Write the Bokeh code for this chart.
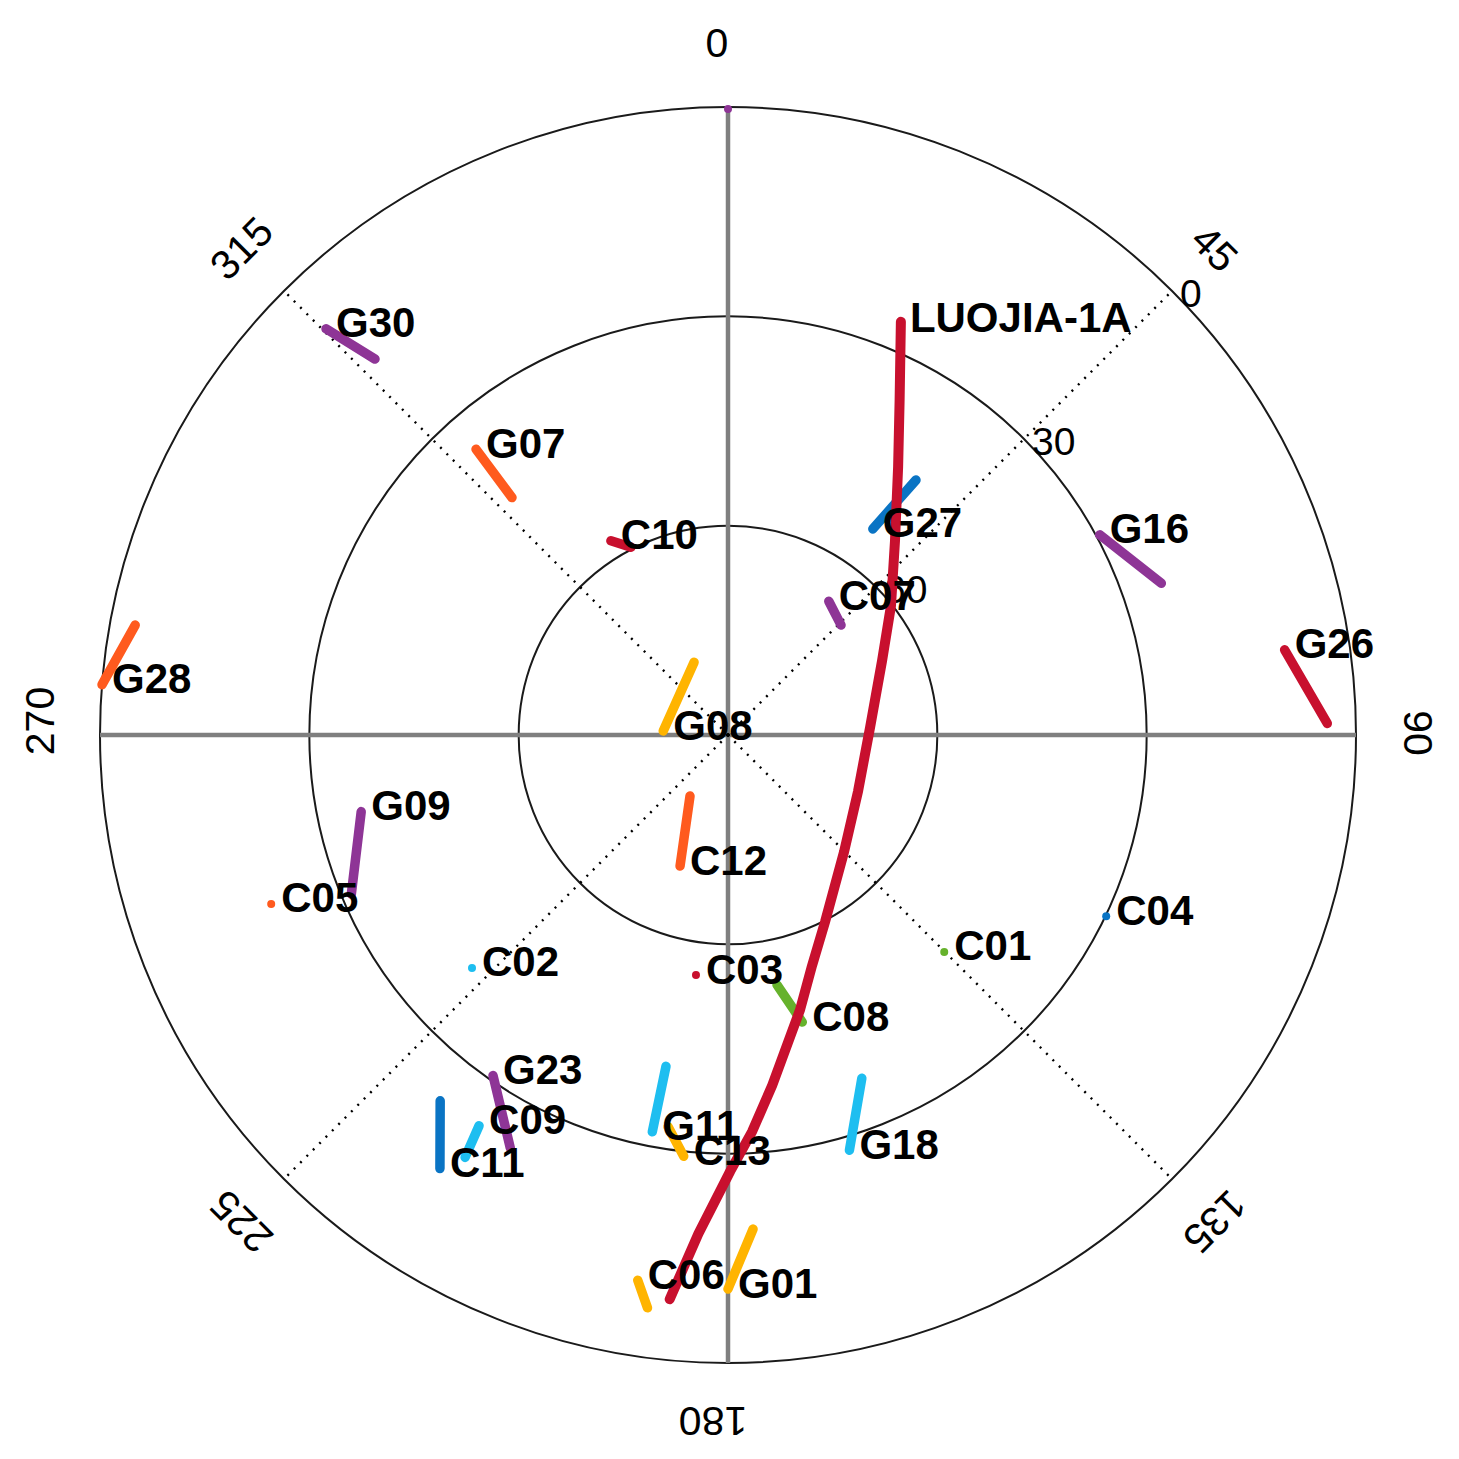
import numpy as np
from bokeh.plotting import figure
from bokeh.models import ColumnDataSource, Range1d
from bokeh.core.properties import value
from bokeh.embed import file_html
from bokeh.resources import INLINE

# ---------------- data (azimuth deg, elevation deg) ----------------
# satellite tracks: "a" = end where the label sits, "b" = other end
sat_names = ["G30", "G07", "C10", "G28", "G08", "G27", "G16", "C07", "G26", "G09",
             "G23", "C09", "C11", "G11", "C13", "C06", "G01", "C08", "G18", "C12"]
sat_az_a = [315.3, 318.6, 328.9, 274.6, 273.5, 35.1, 61.7, 37.0, 81.3, 258.2,
            214.6, 212.5, 213.6, 190.8, 186.0, 189.4, 180.0, 165.5, 163.7, 200.1]
sat_el_a = [8.1, 35.4, 57.5, 0.0, 80.7, 53.9, 29.5, 66.0, 9.3, 36.3,
            30.7, 23.6, 15.4, 32.1, 29.3, 10.8, 10.6, 47.5, 28.0, 70.0]
sat_az_b = [316.8, 317.7, 332.7, 280.5, 335.0, 36.4, 70.7, 45.8, 88.9, 247.1,
            207.8, 211.9, 218.2, 190.6, 188.7, 188.0, 177.1, 168.9, 158.7, 211.9]
sat_el_b = [16.1, 44.0, 59.7, 3.6, 78.5, 44.6, 24.2, 67.4, 4.1, 31.4,
            23.1, 18.7, 23.3, 41.7, 33.2, 7.1, 19.1, 53.5, 37.2, 79.7]

PURPLE, ORANGE, CRIMSON, YELLOW = "#8E3596", "#FF5A1E", "#C8102E", "#FFB400"
CYAN, BLUE, GREEN = "#1EBEF0", "#0A74C4", "#66B22C"
sat_colors = [PURPLE, ORANGE, CRIMSON, ORANGE, YELLOW, BLUE, PURPLE, PURPLE, CRIMSON, PURPLE,
              PURPLE, CYAN, BLUE, CYAN, YELLOW, YELLOW, YELLOW, GREEN, CYAN, ORANGE]

# satellites seen as a single point
dot_names = ["C05", "C02", "C03", "C01", "C04", ""]
dot_az = [249.7, 227.7, 187.6, 135.1, 115.6, 0.0]
dot_el = [20.2, 40.4, 55.3, 46.1, 29.9, 0.3]
dot_colors = [ORANGE, CYAN, CRIMSON, GREEN, BLUE, PURPLE]

# LEO satellite track
luojia_name = "LUOJIA-1A"
luojia_az = [22.7, 27.2, 32.4, 40.7, 51.6, 64.3, 86.8, 113.3, 135.2, 152.6,
             160.0, 165.3, 172.8, 176.5, 179.7, 183.4, 185.9]
luojia_el = [25.8, 36.2, 44.5, 53.3, 60.2, 65.5, 69.6, 69.7, 66.4, 59.8,
             54.8, 49.3, 39.4, 33.1, 27.5, 18.4, 8.7]

az_ticks = [0, 45, 90, 135, 180, 225, 270, 315]
el_ticks = [0, 30, 60]


def to_xy(az, el):
    az = np.radians(np.asarray(az, dtype=float))
    r = 90.0 - np.asarray(el, dtype=float)
    return r * np.sin(az), r * np.cos(az)


# ---------------- figure ----------------
W = H = 1451
s = 628.0 / 90.0
cx, cy = 727.5, 734.5
p = figure(width=W, height=H, output_backend="svg", toolbar_location=None,
           x_range=Range1d(-cx / s, (W - cx) / s), y_range=Range1d(-(H - cy) / s, cy / s),
           x_axis_location=None, y_axis_location=None, min_border=0)
p.grid.visible = False
p.outline_line_color = None
p.background_fill_color = "white"

font = value("Liberation Sans")

# elevation rings
for e in el_ticks:
    p.circle(x=0, y=0, radius=90 - e, fill_color=None, line_color="#1a1a1a", line_width=2)

# solid cross
p.segment(x0=[-90, 0], y0=[0, -90], x1=[90, 0], y1=[0, 90], line_color="#7f7f7f", line_width=4.5)

# dotted diagonals
diag = [a for a in az_ticks if a % 90 != 0]
dx1, dy1 = to_xy(diag, [0] * len(diag))
p.segment(x0=[0] * len(diag), y0=[0] * len(diag), x1=dx1, y1=dy1,
          line_color="black", line_width=2.4, line_dash="2 7")

# azimuth labels (small screen nudges as in the original rendering)
az_dx = [-11, 0, 2, 0, -15, 0, 0, 0]
az_dy = [-4, 0, -2, 0, -2, 0, -14, 0]
ax_, ay_ = to_xy(az_ticks, [90 - 98.6] * len(az_ticks))
asrc = ColumnDataSource(dict(x=ax_, y=ay_, t=[str(a) for a in az_ticks],
                             ang=[-np.radians(a) for a in az_ticks], dx=az_dx, dy=az_dy))
p.text(x="x", y="y", text="t", angle="ang", x_offset="dx", y_offset="dy", source=asrc,
       text_font=font, text_font_size="41px", text_color="black",
       text_align="center", text_baseline="middle")

# elevation labels
ex_, ey_ = to_xy([45] * len(el_ticks), el_ticks)
p.text(x=ex_, y=ey_, text=[str(e) for e in el_ticks], x_offset=8, y_offset=3,
       text_font=font, text_font_size="39px", text_color="black",
       text_align="left", text_baseline="middle")

# satellite tracks
xa, ya = to_xy(sat_az_a, sat_el_a)
xb, yb = to_xy(sat_az_b, sat_el_b)
src = ColumnDataSource(dict(xa=xa, ya=ya, xb=xb, yb=yb, c=sat_colors, t=sat_names))
p.segment(x0="xa", y0="ya", x1="xb", y1="yb", line_color="c", line_width=9.5,
          line_cap="round", source=src)

xd, yd = to_xy(dot_az, dot_el)
dsrc = ColumnDataSource(dict(x=xd, y=yd, c=dot_colors, t=dot_names))
p.scatter(x="x", y="y", size=8, fill_color="c", line_color=None, source=dsrc)

# LUOJIA track
lx, ly = to_xy(luojia_az, luojia_el)
p.line(x=lx, y=ly, line_color=CRIMSON, line_width=10, line_cap="round", line_join="round")

# labels
p.text(x="xa", y="ya", text="t", source=src, x_offset=10, y_offset=-6,
       text_font=font, text_font_style="bold", text_font_size="42px", text_color="black",
       text_align="left", text_baseline="middle")
p.text(x="x", y="y", text="t", source=dsrc, x_offset=10, y_offset=-6,
       text_font=font, text_font_style="bold", text_font_size="42px", text_color="black",
       text_align="left", text_baseline="middle")
p.text(x=[lx[0]], y=[ly[0]], text=[luojia_name], x_offset=9, y_offset=-4,
       text_font=font, text_font_style="bold", text_font_size="42px", text_color="black",
       text_align="left", text_baseline="middle")

open("out.html", "w").write(file_html(p, INLINE))
